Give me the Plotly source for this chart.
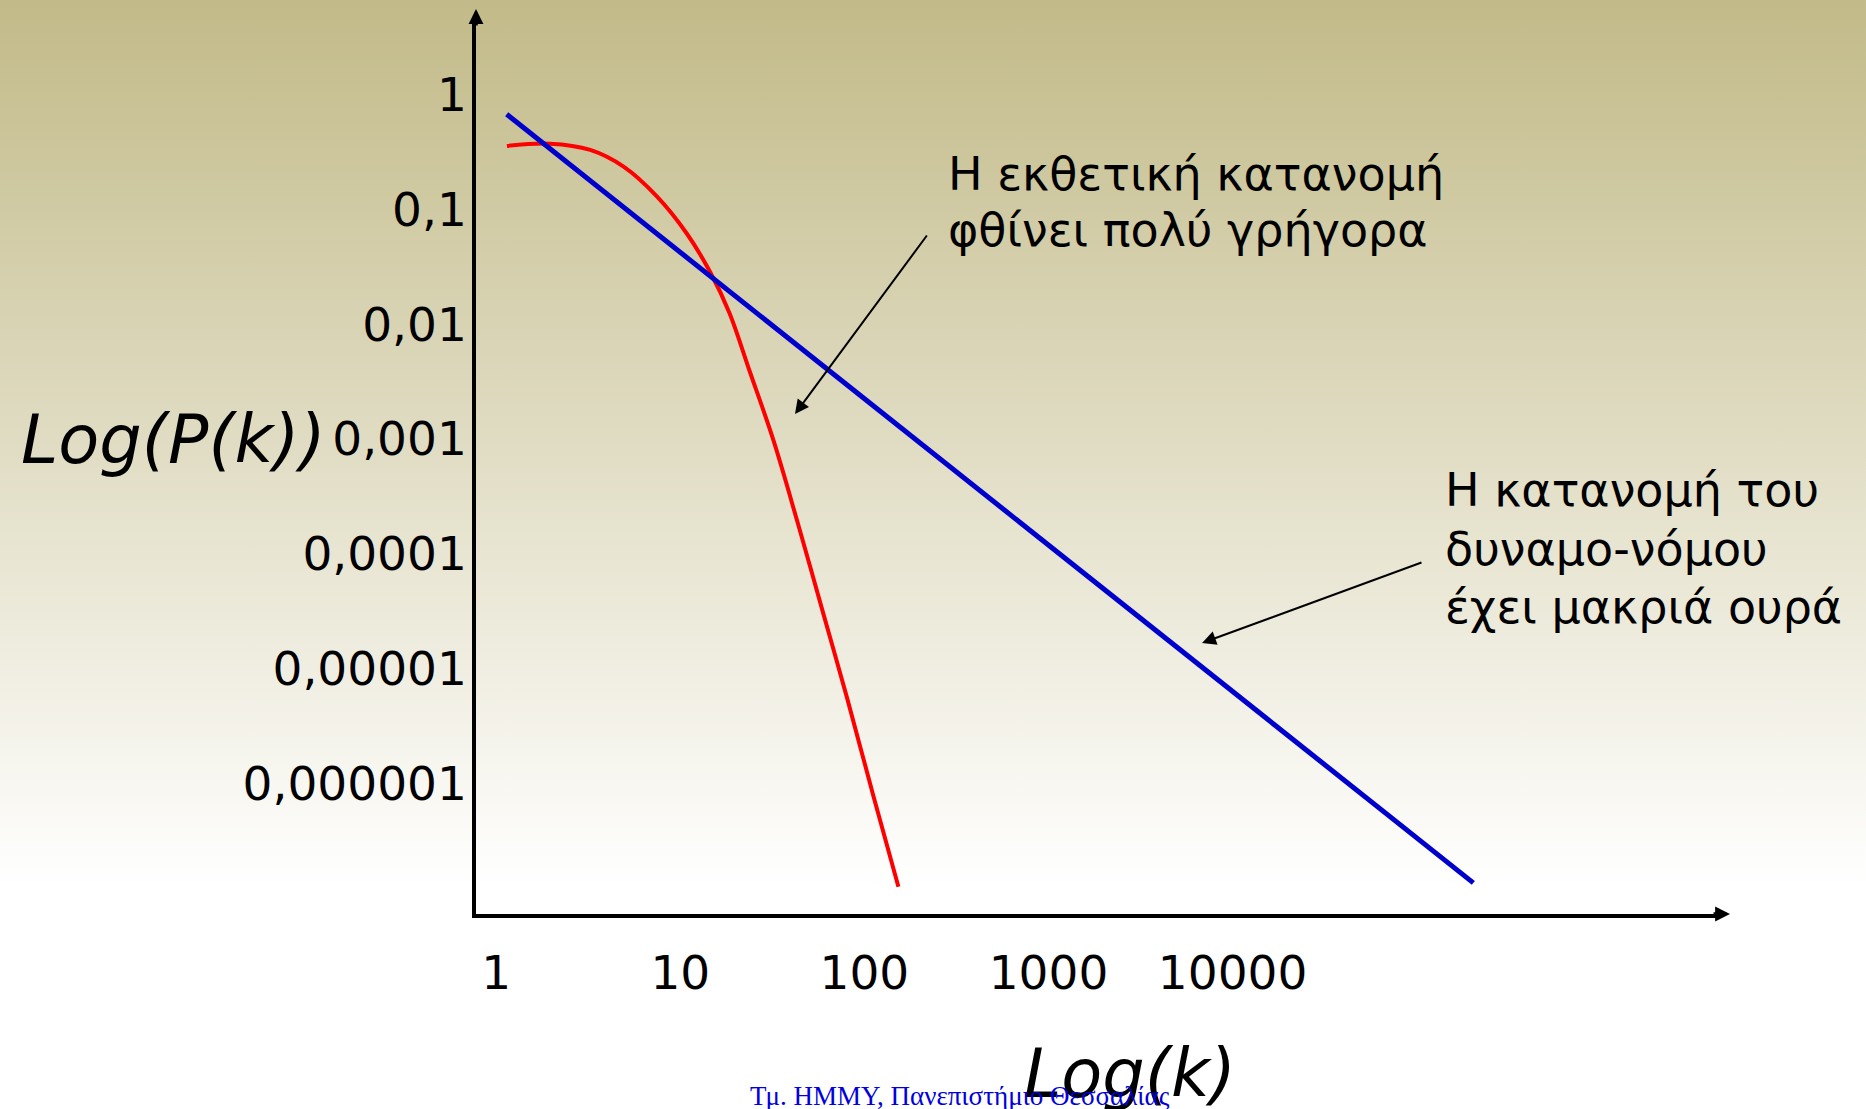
import base64
import plotly.graph_objects as go

# ---------------- data ----------------
power_k = [1.14, 203000]
power_p = [0.674, 1.36e-7]

exp_k = [1.144, 1.954, 3.242, 4.918, 7.459, 10.82, 14.57, 18.49, 23.82,
         32.07, 43.19, 59.93, 80.7, 112.0, 153.0]
exp_p = [0.357, 0.374, 0.330, 0.236, 0.130, 0.0620, 0.0282, 0.01253, 0.00389,
         9.72e-4, 1.92e-4, 2.98e-5, 5.48e-6, 7.74e-7, 1.26e-7]

x_tick_vals = [1, 10, 100, 1000, 10000]
x_tick_text = ["1", "10", "100", "1000", "10000"]
y_tick_vals = [1, 0.1, 0.01, 0.001, 0.0001, 0.00001, 0.000001]
y_tick_text = ["1", "0,1", "0,01", "0,001", "0,0001", "0,00001", "0,000001"]

label_exp = ["Η εκθετική κατανομή", "φθίνει πολύ γρήγορα"]
label_pow = ["Η κατανομή του", "δυναμο-νόμου", "έχει μακριά ουρά"]
x_title = "Log(k)"
y_title = "Log(P(k))"
footer = "Τμ. ΗΜΜΥ, Πανεπιστήμιο Θεσσαλίας"

# ---------------- layout geometry ----------------
W, H = 1866, 1109
X0, SX = 496.2, 184.1      # pixel of log10(k)=0, pixels per decade
Y0, SY = 94.6, 114.8       # pixel of log10(P)=0, pixels per decade
ORIG_X, ORIG_Y = 476, 914  # axes origin (pixels)
XEND, YEND = 1718, 22      # where the axis lines end (arrowheads beyond)


def px(x):
    return x / W


def py(y):
    return 1 - y / H


x_range = [(ORIG_X - X0) / SX, (XEND - X0) / SX]
y_range = [(Y0 - ORIG_Y) / SY, (Y0 - YEND) / SY]

FONT = "DejaVu Sans"

fig = go.Figure()

fig.add_trace(go.Scatter(
    x=exp_k, y=exp_p, mode="lines",
    line=dict(color="#FF0000", width=4, shape="spline", smoothing=1.0),
    hoverinfo="skip",
))
fig.add_trace(go.Scatter(
    x=power_k, y=power_p, mode="lines",
    line=dict(color="#0000CC", width=5),
    hoverinfo="skip",
))

grad_svg = (
    f'<svg xmlns="http://www.w3.org/2000/svg" width="{W}" height="{H}" '
    f'viewBox="0 0 {W} {H}" preserveAspectRatio="none">'
    '<defs><linearGradient id="g" x1="0" y1="0" x2="0" y2="1">'
    '<stop offset="0" stop-color="#C2BA88"/>'
    '<stop offset="0.8" stop-color="#FFFFFF"/>'
    '</linearGradient></defs>'
    f'<rect width="{W}" height="{H}" fill="url(#g)"/></svg>'
)
grad_src = "data:image/svg+xml;base64," + base64.b64encode(grad_svg.encode()).decode()

annotations = []

# axis arrowheads
annotations.append(dict(x=px(1730), y=py(ORIG_Y), xref="paper", yref="paper",
                        ax=-18, ay=0, text="", showarrow=True, arrowhead=2,
                        arrowsize=0.85, arrowwidth=3.5, arrowcolor="black"))
annotations.append(dict(x=px(ORIG_X), y=py(9), xref="paper", yref="paper",
                        ax=0, ay=18, text="", showarrow=True, arrowhead=2,
                        arrowsize=0.85, arrowwidth=3.5, arrowcolor="black"))

# pointer arrows
annotations.append(dict(x=px(795), y=py(414), xref="paper", yref="paper",
                        ax=133, ay=-180, text="", showarrow=True, arrowhead=2,
                        arrowsize=1.4, arrowwidth=2, arrowcolor="black"))
annotations.append(dict(x=px(1202), y=py(643), xref="paper", yref="paper",
                        ax=221, ay=-81, text="", showarrow=True, arrowhead=2,
                        arrowsize=1.4, arrowwidth=2, arrowcolor="black"))

# text blocks
for line, yc in zip(label_exp, [174, 230]):
    annotations.append(dict(x=px(946), y=py(yc), xref="paper", yref="paper",
                            text=line, showarrow=False, xanchor="left", yanchor="middle",
                            font=dict(family=FONT, size=46, color="black")))
for line, yc in zip(label_pow, [490, 549, 607]):
    annotations.append(dict(x=px(1443), y=py(yc), xref="paper", yref="paper",
                            text=line, showarrow=False, xanchor="left", yanchor="middle",
                            font=dict(family=FONT, size=46, color="black")))

# axis titles
annotations.append(dict(x=px(19), y=py(440), xref="paper", yref="paper",
                        text=y_title, showarrow=False, xanchor="left", yanchor="middle",
                        font=dict(family=FONT, size=67, color="black", style="italic")))
annotations.append(dict(x=px(1130), y=py(1074), xref="paper", yref="paper",
                        text=x_title, showarrow=False, xanchor="center", yanchor="middle",
                        font=dict(family=FONT, size=67, color="black", style="italic")))

# footer
annotations.append(dict(x=px(960), y=py(1096), xref="paper", yref="paper",
                        text=footer, showarrow=False, xanchor="center", yanchor="middle",
                        font=dict(family="Liberation Serif", size=27, color="#0000E0")))

fig.update_layout(
    width=W, height=H,
    margin=dict(l=0, r=0, t=0, b=0, pad=0),
    paper_bgcolor="white",
    plot_bgcolor="rgba(0,0,0,0)",
    showlegend=False,
    images=[dict(source=grad_src, xref="paper", yref="paper", x=0, y=1,
                 sizex=1, sizey=1, sizing="stretch", layer="below",
                 xanchor="left", yanchor="top")],
    annotations=annotations,
    xaxis=dict(
        type="log", range=x_range, domain=[px(ORIG_X), px(XEND)],
        showgrid=False, zeroline=False,
        showline=True, linecolor="black", linewidth=3.5,
        tickvals=x_tick_vals, ticktext=x_tick_text, ticks="",
        ticklabelstandoff=15,
        tickfont=dict(family=FONT, size=47, color="black"),
        anchor="y",
    ),
    yaxis=dict(
        type="log", range=y_range, domain=[py(ORIG_Y), py(YEND)],
        showgrid=False, zeroline=False,
        showline=True, linecolor="black", linewidth=3.5,
        tickvals=y_tick_vals, ticktext=y_tick_text, ticks="",
        ticklabelstandoff=-4,
        tickfont=dict(family=FONT, size=47, color="black"),
        anchor="x",
    ),
)

fig.write_html("out.html")
